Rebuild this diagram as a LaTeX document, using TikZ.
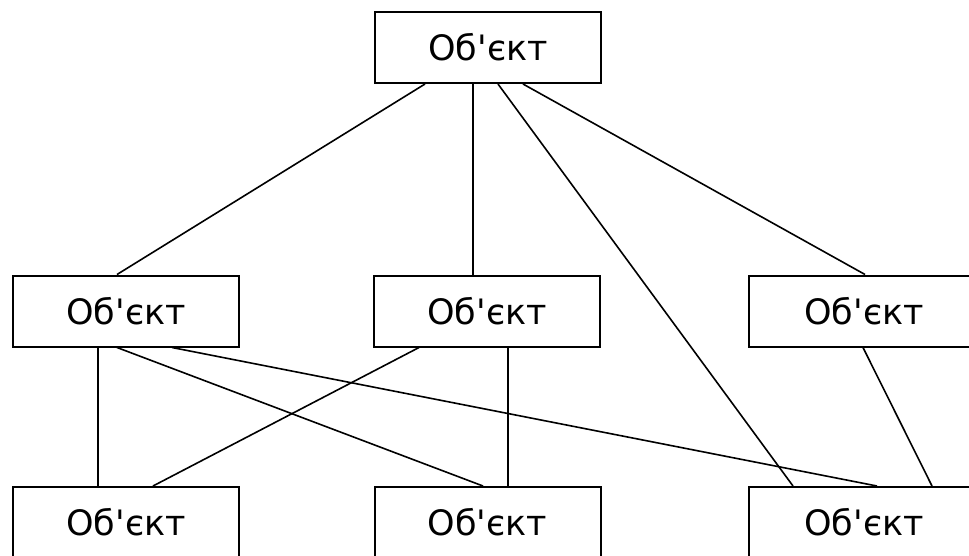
\documentclass[tikz,border=0pt]{standalone}
\usepackage{fontspec}
\newfontfamily\lab{DejaVu Sans}[Ligatures=TeXOff]
\begin{document}
\begin{tikzpicture}[x=1pt,y=-1pt,
  objbox/.style={draw=black,line width=2pt,fill=white,minimum width=226pt,
    minimum height=71pt,inner sep=0pt,font=\lab\fontsize{35}{40}\selectfont},
  link/.style={draw=black,line width=1.6pt}]
  \useasboundingbox (0,0) rectangle (969,555);
  % three levels of objects
  \node[objbox] (top) at (488,47.5) {Об'єкт};
  \node[objbox] (ml) at (126,311) {Об'єкт};
  \node[objbox] (mc) at (487,311) {Об'єкт};
  \node[objbox,minimum width=230pt] (mr) at (864,311) {Об'єкт};
  \node[objbox] (bl) at (126,522.5) {Об'єкт};
  \node[objbox] (bc) at (487.5,522.5) {Об'єкт};
  \node[objbox,minimum width=230pt] (br) at (864,522.5) {Об'єкт};
  % links from the top object
  \draw[link] ([xshift=-63pt]top.south) -- ([xshift=-9pt]ml.north);
  \draw[link] ([xshift=-15pt]top.south) -- ([xshift=-14pt]mc.north);
  \draw[link] ([xshift=10pt]top.south) -- ([xshift=-71pt]br.north);
  \draw[link] ([xshift=35pt]top.south) -- ([xshift=1pt]mr.north);
  % links from the middle level
  \draw[link] ([xshift=-28pt]ml.south) -- ([xshift=-28pt]bl.north);
  \draw[link] ([xshift=-9pt]ml.south) -- ([xshift=-4.5pt]bc.north);
  \draw[link] ([xshift=46pt]ml.south) -- ([xshift=13pt]br.north);
  \draw[link] ([xshift=-68pt]mc.south) -- ([xshift=27pt]bl.north);
  \draw[link] ([xshift=21pt]mc.south) -- ([xshift=20.5pt]bc.north);
  \draw[link] ([xshift=-1pt]mr.south) -- ([xshift=68pt]br.north);
\end{tikzpicture}
\end{document}
